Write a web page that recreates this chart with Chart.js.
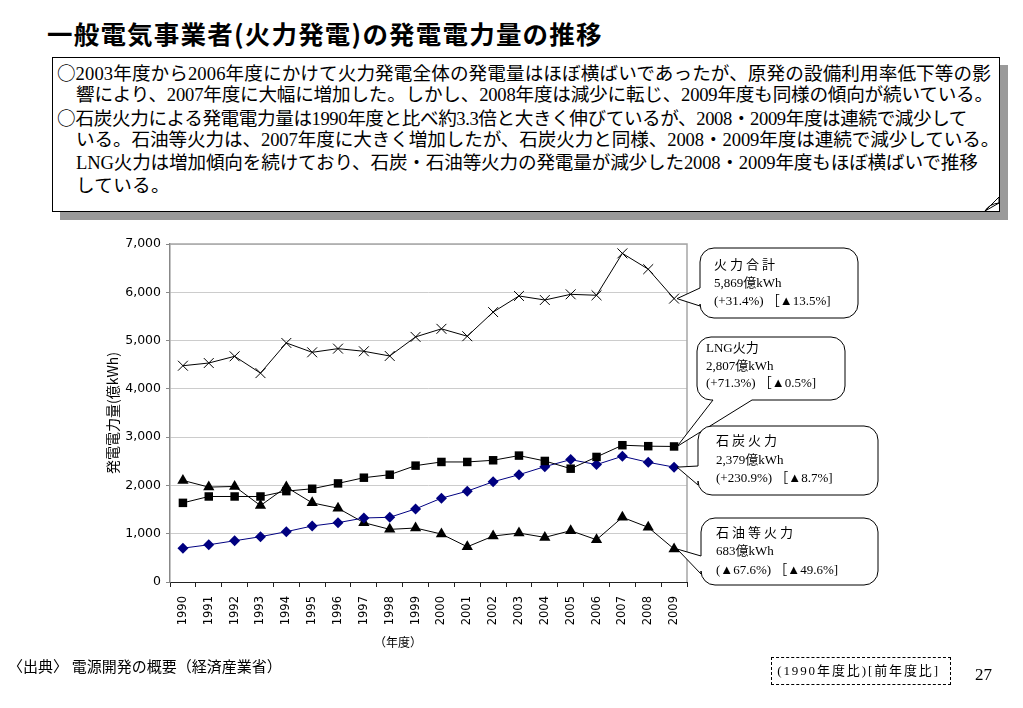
<!DOCTYPE html>
<html lang="ja">
<head>
<meta charset="utf-8">
<script src="https://cdn.jsdelivr.net/npm/chart.js@4/dist/chart.umd.min.js"></script>
<style>
  html,body{margin:0;padding:0;background:#fff;}
  body{width:1023px;height:708px;position:relative;overflow:hidden;
       font-family:"Liberation Serif","Noto Sans CJK JP",serif;color:#000;}
  #title{position:absolute;left:47px;top:18px;font-family:"Noto Sans CJK JP",sans-serif;
         font-weight:700;font-size:25.5px;line-height:30px;white-space:nowrap;letter-spacing:1.2px;}
  #shadow{position:absolute;left:60px;top:65px;width:948px;height:155px;background:#9a9a9a;}
  #box{position:absolute;left:52px;top:57px;width:946px;height:153px;background:#fff;border:1px solid #000;}
  .ln{position:absolute;white-space:nowrap;font-size:18.6px;line-height:22px;letter-spacing:0.3px;}
  .ci{font-family:"Noto Sans CJK JP",sans-serif;letter-spacing:0;}
  #wrap{position:absolute;left:0;top:228px;width:1023px;height:440px;}
  #xt{position:absolute;left:374px;top:633px;font-family:"Noto Sans CJK JP",sans-serif;font-size:12px;}
  #src{position:absolute;left:8px;top:655px;font-size:15px;white-space:nowrap;}
  #legbox{position:absolute;left:771px;top:657px;width:178px;height:26px;border:1px dashed #000;
          font-size:13px;line-height:26px;white-space:nowrap;letter-spacing:1.9px;}
  #pg{position:absolute;left:975px;top:665px;font-size:17px;}
</style>
</head>
<body>
<div id="title">一般電気事業者(火力発電)の発電電力量の推移</div>
<div id="shadow"></div>
<div id="box"></div>
<svg style="position:absolute;left:975px;top:195px" width="30" height="25">
  <path d="M10 16 L24 2 L24 8 Z" fill="#fff" stroke="#000" stroke-width="1"/>
  <path d="M10 16 Q14 9 24 8" fill="none" stroke="#000" stroke-width="1"/>
</svg>
<div class="ln" style="left:57px;top:61px;letter-spacing:0.1px"><span class="ci">○</span>2003年度から2006年度にかけて火力発電全体の発電量はほぼ横ばいであったが、原発の設備利用率低下等の影</div>
<div class="ln" style="left:76px;top:84px;letter-spacing:-0.2px">響により、2007年度に大幅に増加した。しかし、2008年度は減少に転じ、2009年度も同様の傾向が続いている。</div>
<div class="ln" style="left:57px;top:106px;letter-spacing:-0.4px"><span class="ci">○</span>石炭火力による発電電力量は1990年度と比べ約3.3倍と大きく伸びているが、2008・2009年度は連続で減少して</div>
<div class="ln" style="left:76px;top:129px;letter-spacing:-0.1px">いる。石油等火力は、2007年度に大きく増加したが、石炭火力と同様、2008・2009年度は連続で減少している。</div>
<div class="ln" style="left:76px;top:152px;letter-spacing:-0.16px">LNG火力は増加傾向を続けており、石炭・石油等火力の発電量が減少した2008・2009年度もほぼ横ばいで推移</div>
<div class="ln" style="left:76px;top:175px">している。</div>

<div id="wrap"><canvas id="c"></canvas></div>
<div id="xt">（年度）</div>
<div id="src">〈出典〉 電源開発の概要（経済産業省）</div>
<div id="legbox">&nbsp;(1990年度比)[前年度比]</div>
<div id="pg">27</div>

<script>
const years = ['1990','1991','1992','1993','1994','1995','1996','1997','1998','1999',
               '2000','2001','2002','2003','2004','2005','2006','2007','2008','2009'];
const totalThermal = [4479,4535,4674,4326,4951,4757,4833,4778,4681,5076,
                      5243,5090,5590,5924,5840,5958,5938,6806,6479,5869];
const lngThermal   = [1639,1771,1771,1771,1882,1931,2042,2160,2222,2410,
                      2486,2486,2521,2618,2507,2347,2590,2833,2813,2807];
const coalThermal  = [701,771,854,938,1042,1160,1229,1326,1340,1514,
                      1736,1882,2076,2222,2389,2535,2431,2604,2479,2379];
const oilThermal   = [2104,1965,1979,1583,1965,1639,1528,1229,1090,1118,
                      993,729,951,1014,924,1063,875,1340,1132,683];
const seriesNames = ['火力合計','LNG火力','石炭火力','石油等火力'];
const calloutLines = [
  ['火力合計','5,869億kWh','(+31.4%) ［▲13.5%]'],
  ['LNG火力','2,807億kWh','(+71.3%) ［▲0.5%]'],
  ['石炭火力','2,379億kWh','(+230.9%) ［▲8.7%]'],
  ['石油等火力','683億kWh','(▲67.6%) ［▲49.6%]']
];
const yTicks = [0,1000,2000,3000,4000,5000,6000,7000];

const calloutGeom = [
  {ds:0, x:700, y:20, w:158, h:70, side:'left', a:40, b:58, tx:14, lines:[18,36,54], spaced:true},
  {ds:1, x:697, y:109, w:148, h:63, side:'bottom', a:16, b:55, tx:9, lines:[12,30,47], spaced:false},
  {ds:2, x:698, y:198, w:180, h:69, side:'left', a:40, b:59, tx:18, lines:[16,35,53], spaced:true},
  {ds:3, x:701, y:290, w:177, h:67, side:'left', a:38, b:56, tx:15, lines:[16,34,53], spaced:true}
];

const frame = {
  id:'frame',
  beforeDatasetsDraw(chart){
    const {ctx, chartArea:a} = chart;
    ctx.save();
    ctx.strokeStyle = '#a6a6a6';
    ctx.lineWidth = 1.5;
    ctx.beginPath();
    ctx.moveTo(a.left, a.top); ctx.lineTo(a.right, a.top); ctx.lineTo(a.right, a.bottom);
    ctx.stroke();
    ctx.restore();
  }
};

const callouts = {
  id:'callouts',
  afterDraw(chart){
    const ctx = chart.ctx;
    ctx.save();
    calloutGeom.forEach((g,i)=>{
      const meta = chart.getDatasetMeta(g.ds);
      const pt = meta.data[meta.data.length-1];
      const tipX = pt.x + 3, tipY = pt.y;
      const x0=g.x, y0=g.y, x1=g.x+g.w, y1=g.y+g.h, r=14;
      ctx.beginPath();
      ctx.moveTo(x0+r, y0);
      ctx.lineTo(x1-r, y0); ctx.arcTo(x1,y0,x1,y0+r,r);
      ctx.lineTo(x1, y1-r); ctx.arcTo(x1,y1,x1-r,y1,r);
      if (g.side==='bottom'){
        ctx.lineTo(x0+g.b, y1); ctx.lineTo(tipX, tipY); ctx.lineTo(x0+g.a, y1);
      }
      ctx.lineTo(x0+r, y1); ctx.arcTo(x0,y1,x0,y1-r,r);
      if (g.side==='left'){
        ctx.lineTo(x0, y0+g.b); ctx.lineTo(tipX, tipY); ctx.lineTo(x0, y0+g.a);
      }
      ctx.lineTo(x0, y0+r); ctx.arcTo(x0,y0,x0+r,y0,r);
      ctx.closePath();
      ctx.fillStyle='#fff'; ctx.fill();
      ctx.strokeStyle='#000'; ctx.lineWidth=1; ctx.stroke();
      ctx.fillStyle='#000';
      ctx.textBaseline='middle';
      calloutLines[i].forEach((t,k)=>{
        ctx.font = '13px "Liberation Serif","Noto Sans CJK JP",serif';
        ctx.letterSpacing = (k===0 && g.spaced) ? '3px' : '0px';
        ctx.fillText(t, x0+g.tx, y0+g.lines[k]);
      });
    });
    ctx.restore();
  }
};

new Chart(document.getElementById('c'), {
  type:'line',
  data:{
    labels: years,
    datasets:[
      {label:seriesNames[0], data:totalThermal, borderColor:'#000', backgroundColor:'#000',
       borderWidth:1, pointStyle:'crossRot', pointRadius:7, pointBorderWidth:1, tension:0},
      {label:seriesNames[1], data:lngThermal, borderColor:'#000', backgroundColor:'#000',
       borderWidth:1, pointStyle:'rect', pointRadius:6, pointBorderWidth:0, tension:0},
      {label:seriesNames[2], data:coalThermal, borderColor:'#000080', backgroundColor:'#000080',
       pointBorderColor:'#000080', borderWidth:1, pointStyle:'rectRot', pointRadius:5.5, pointBorderWidth:0, tension:0},
      {label:seriesNames[3], data:oilThermal, borderColor:'#000', backgroundColor:'#000',
       borderWidth:1, pointStyle:'triangle', pointRadius:6.5, pointBorderWidth:0, tension:0}
    ]
  },
  options:{
    responsive:true, maintainAspectRatio:false, animation:false,
    layout:{padding:{left:104, right:336, top:16, bottom:16}},
    plugins:{legend:{display:false}, tooltip:{enabled:false}},
    scales:{
      x:{
        offset:true,
        grid:{offset:true, drawOnChartArea:false, tickLength:5, color:'#222', tickColor:'#222'},
        border:{color:'#222', width:1},
        ticks:{minRotation:90, maxRotation:90, autoSkip:false, padding:9, color:'#000',
               font:{family:'"DejaVu Sans", sans-serif', size:11.5}},
        afterFit(s){ s.height = 70; }
      },
      y:{
        min:0, max:7000,
        afterBuildTicks(s){ s.ticks = yTicks.map(v=>({value:v})); },
        grid:{color:'#cccccc', tickLength:4, tickColor:'#888'},
        border:{color:'#888', width:1.5},
        ticks:{padding:5, color:'#000',
               font:{family:'"DejaVu Sans", sans-serif', size:12.5},
               callback:v=>v.toLocaleString('en-US')},
        title:{display:true, text:'発電電力量(億kWh)', color:'#000', padding:{top:0,bottom:2},
               font:{family:'"Noto Sans CJK JP", sans-serif', size:14}},
        afterFit(s){ s.width = 66; }
      }
    }
  },
  plugins:[frame, callouts]
});
</script>
</body>
</html>
